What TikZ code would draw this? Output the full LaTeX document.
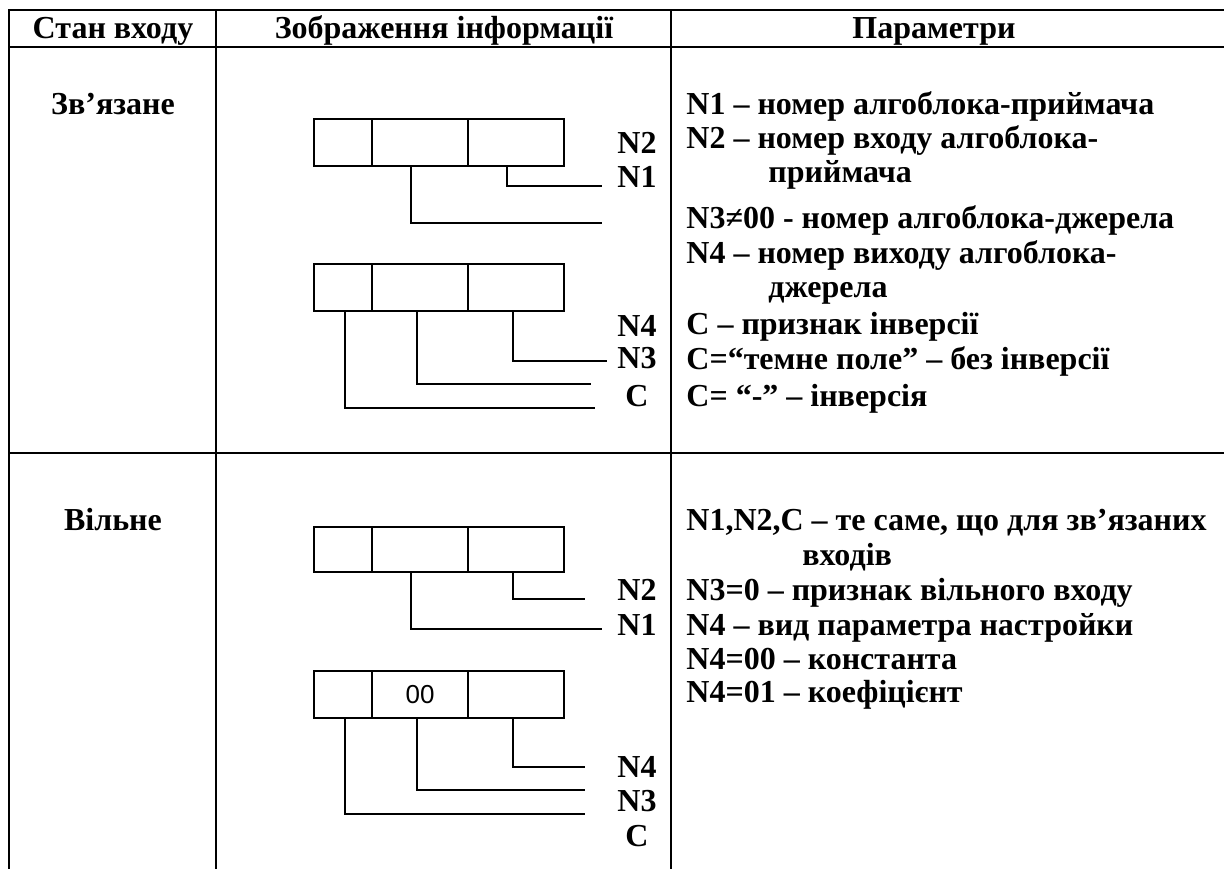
\documentclass[tikz,border=0pt]{standalone}
\usepackage{fontspec}
\setmainfont{Liberation Serif}
\newfontfamily\digitsfont{Liberation Sans}
\usetikzlibrary{positioning}
\tikzset{cell/.style = {draw, rectangle, line width = 1pt, inner sep = 0, outer sep = 0, minimum height = 23.5pt}}
\tikzset{lbl/.style = {anchor = base, inner sep = 0, font = \fontsize{16}{19}\selectfont\bfseries}}
\tikzset{txt/.style = {anchor = base west, inner sep = 0, font = \fontsize{16}{19}\selectfont\bfseries}}
\tikzset{wire/.style = {line width = 0.9pt}}
\tikzset{tabline/.style = {line width = 1.4pt}}

\begin{document}
\begin{tikzpicture}[x = 0.5pt, y = -0.5pt]
            \useasboundingbox (0,0) rectangle (1224,868);
            % table
            \draw [tabline] (9,875)--(9,10)--(1230,10);
            \draw [tabline] (9,47)--(1230,47);
            \draw [tabline] (9,453)--(1230,453);
            \draw [tabline] (216,10)--(216,875);
            \draw [tabline] (671,10)--(671,875);
            \node [lbl] (h1) at (113,38) {Стан входу};
            \node [lbl] (h2) at (444,38) {Зображення інформації};
            \node [lbl] (h3) at (934,38) {Параметри};
            \node [lbl] (bound) at (113,114) {Зв’язане};
            \node [lbl] (free) at (113,530) {Вільне};

            % bound input, receiver word
            \node [cell, minimum width = 29pt] (a1) at (343,142) {};
            \node [cell, minimum width = 48pt, right = 0pt of a1] (a2) {};
            \node [cell, minimum width = 48pt, right = 0pt of a2] (a3) {};
            \coordinate (e1) at (602,186);
            \coordinate (e2) at (602,223);
            \draw [wire] ([xshift=-4.5pt]a3.south) |- (e1);
            \draw [wire] ([xshift=-4.5pt]a2.south) |- (e2);
            \node [lbl] (n2a) at (637,153) {N2};
            \node [lbl] (n1a) at (637,187) {N1};

            % bound input, source word
            \node [cell, minimum width = 29pt] (b1) at (343,287) {};
            \node [cell, minimum width = 48pt, right = 0pt of b1] (b2) {};
            \node [cell, minimum width = 48pt, right = 0pt of b2] (b3) {};
            \coordinate (e3) at (607,361);
            \coordinate (e4) at (591,384);
            \coordinate (e5) at (595,408);
            \draw [wire] ([xshift=-1.5pt]b3.south) |- (e3);
            \draw [wire] ([xshift=-1.5pt]b2.south) |- (e4);
            \draw [wire] ([xshift=1pt]b1.south) |- (e5);
            \node [lbl] (n4a) at (637,336) {N4};
            \node [lbl] (n3a) at (637,368) {N3};
            \node [lbl] (ca) at (637,406) {C};

            % free input, receiver word
            \node [cell, minimum width = 29pt, minimum height = 22.5pt] (c1) at (343,549.5) {};
            \node [cell, minimum width = 48pt, minimum height = 22.5pt, right = 0pt of c1] (c2) {};
            \node [cell, minimum width = 48pt, minimum height = 22.5pt, right = 0pt of c2] (c3) {};
            \coordinate (e6) at (585,599);
            \coordinate (e7) at (602,629);
            \draw [wire] ([xshift=-1.5pt]c3.south) |- (e6);
            \draw [wire] ([xshift=-4.5pt]c2.south) |- (e7);
            \node [lbl] (n2b) at (637,600) {N2};
            \node [lbl] (n1b) at (637,635) {N1};

            % free input, setting word
            \node [cell, minimum width = 29pt] (d1) at (343,694.5) {};
            \node [cell, minimum width = 48pt, right = 0pt of d1, font = \digitsfont\fontsize{13}{15}\selectfont] (d2) {00};
            \node [cell, minimum width = 48pt, right = 0pt of d2] (d3) {};
            \coordinate (e8) at (585,767);
            \coordinate (e9) at (585,790);
            \coordinate (e10) at (585,814);
            \draw [wire] ([xshift=-1.5pt]d3.south) |- (e8);
            \draw [wire] ([xshift=-1.5pt]d2.south) |- (e9);
            \draw [wire] ([xshift=1pt]d1.south) |- (e10);
            \node [lbl] (n4b) at (637,777) {N4};
            \node [lbl] (n3b) at (637,811) {N3};
            \node [lbl] (cb) at (637,846) {C};

            % parameters
            \node [txt] (p1) at (686,114) {N1 – номер алгоблока-приймача};
            \node [txt] (p2) at (686,148) {N2 – номер входу алгоблока-};
            \node [txt] (p3) at (768,182) {приймача};
            \node [txt] (p4) at (686,228) {N3≠00 - номер алгоблока-джерела};
            \node [txt] (p5) at (686,263) {N4 – номер виходу алгоблока-};
            \node [txt] (p6) at (768,297) {джерела};
            \node [txt] (p7) at (686,334) {C – признак інверсії};
            \node [txt] (p8) at (686,369) {C=“темне поле” – без інверсії};
            \node [txt] (p9) at (686,406) {C= “-” – інверсія};
            \node [txt] (q1) at (686,530) {N1,N2,C – те саме, що для зв’язаних};
            \node [txt] (q2) at (802,565) {входів};
            \node [txt] (q3) at (686,600) {N3=0 – признак вільного входу};
            \node [txt] (q4) at (686,635) {N4 – вид параметра настройки};
            \node [txt] (q5) at (686,669) {N4=00 – константа};
            \node [txt] (q6) at (686,702) {N4=01 – коефіцієнт};
\end{tikzpicture}
\end{document}
